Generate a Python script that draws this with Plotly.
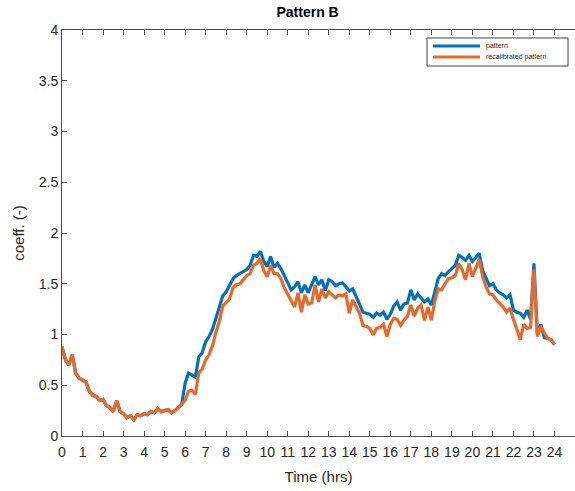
import numpy as np
import plotly.graph_objects as go

# time grid: 10-minute steps from 0 to 24 h
time_hrs = np.round(np.arange(0, 24.0001, 1 / 6), 4)

pattern = [
    0.88, 0.75, 0.70, 0.80, 0.62, 0.57,
    0.55, 0.53, 0.44, 0.40, 0.39, 0.35,
    0.36, 0.30, 0.28, 0.24, 0.35, 0.24,
    0.22, 0.18, 0.20, 0.16, 0.21, 0.20,
    0.22, 0.21, 0.24, 0.23, 0.27, 0.24,
    0.25, 0.26, 0.23, 0.25, 0.28, 0.31,
    0.52, 0.62, 0.60, 0.58, 0.78, 0.82,
    0.93, 0.98, 1.05, 1.16, 1.25, 1.38,
    1.42, 1.48, 1.55, 1.58, 1.60, 1.62,
    1.64, 1.68, 1.78, 1.77, 1.82, 1.72,
    1.67, 1.77, 1.66, 1.70, 1.65, 1.58,
    1.50, 1.44, 1.47, 1.52, 1.41, 1.49,
    1.41, 1.50, 1.57, 1.49, 1.54, 1.43,
    1.54, 1.52, 1.48, 1.50, 1.51, 1.47,
    1.43, 1.45, 1.38, 1.30, 1.22, 1.21,
    1.20, 1.17, 1.21, 1.19, 1.22, 1.15,
    1.20, 1.28, 1.32, 1.24, 1.30, 1.31,
    1.44, 1.34, 1.40, 1.36, 1.32, 1.35,
    1.29, 1.42, 1.55, 1.60, 1.58, 1.62,
    1.65, 1.68, 1.78, 1.76, 1.73, 1.78,
    1.72, 1.76, 1.80, 1.63, 1.55, 1.48,
    1.50, 1.44, 1.41, 1.39, 1.36, 1.39,
    1.24, 1.22, 1.21, 1.17, 1.24, 1.15,
    1.70, 1.00, 1.10, 0.97, 0.96, 0.95,
    0.90,
]

recalibrated = [
    0.88, 0.75, 0.70, 0.80, 0.62, 0.57,
    0.55, 0.53, 0.44, 0.40, 0.39, 0.35,
    0.36, 0.30, 0.28, 0.24, 0.35, 0.24,
    0.22, 0.18, 0.20, 0.16, 0.21, 0.20,
    0.22, 0.21, 0.24, 0.23, 0.27, 0.24,
    0.25, 0.26, 0.23, 0.25, 0.28, 0.32,
    0.35, 0.44, 0.45, 0.41, 0.62, 0.66,
    0.75, 0.80, 0.89, 1.02, 1.13, 1.28,
    1.31, 1.35, 1.46, 1.49, 1.50, 1.54,
    1.58, 1.60, 1.68, 1.70, 1.75, 1.63,
    1.57, 1.68, 1.60, 1.60, 1.55, 1.46,
    1.40, 1.33, 1.27, 1.41, 1.22, 1.39,
    1.30, 1.31, 1.49, 1.32, 1.45, 1.36,
    1.42, 1.39, 1.36, 1.39, 1.38, 1.40,
    1.21, 1.34, 1.28, 1.21, 1.09, 1.08,
    1.06, 0.995, 1.06, 1.07, 1.10, 0.98,
    1.10, 1.16, 1.15, 1.09, 1.14, 1.18,
    1.29, 1.18, 1.26, 1.29, 1.14, 1.27,
    1.14, 1.33, 1.45, 1.44, 1.50, 1.55,
    1.56, 1.58, 1.70, 1.64, 1.54, 1.70,
    1.57, 1.65, 1.74, 1.57, 1.47, 1.40,
    1.39, 1.34, 1.31, 1.27, 1.22, 1.26,
    1.15, 1.06, 0.95, 1.10, 1.06, 1.07,
    1.64, 0.98, 1.08, 1.02, 0.96, 0.95,
    0.90,
]

series_names = ["pattern", "recalibrated pattern"]
x_ticks = list(range(0, 25))
y_ticks = [0, 0.5, 1, 1.5, 2, 2.5, 3, 3.5, 4]
y_tick_labels = ["0", "0.5", "1", "1.5", "2", "2.5", "3", "3.5", "4"]

BLUE = "#0072BD"
ORANGE = "#E8692A"
AX = "#4d4d4d"
TXT = "#262626"
FONT = "Liberation Sans, Arial, sans-serif"
LW = 3.2

fig = go.Figure()
fig.add_trace(go.Scatter(x=time_hrs, y=pattern, mode="lines", name=series_names[0],
                         line=dict(color=BLUE, width=LW)))
fig.add_trace(go.Scatter(x=time_hrs, y=recalibrated, mode="lines",
                         name=series_names[1],
                         line=dict(color=ORANGE, width=LW)))

# compact MATLAB-style legend box (drawn in paper coordinates)
leg_x0, leg_x1, leg_y0, leg_y1 = 0.7115, 0.9864, 0.9113, 0.9803
sample_x0, sample_x1, text_x = 0.7232, 0.8148, 0.8226
rows_y = [0.9606, 0.9335]
fig.add_shape(type="rect", xref="paper", yref="paper",
              x0=leg_x0, x1=leg_x1, y0=leg_y0, y1=leg_y1,
              line=dict(color="#444", width=1), fillcolor="white", layer="above")
for name, col, yy in zip(series_names, [BLUE, ORANGE], rows_y):
    fig.add_shape(type="line", xref="paper", yref="paper",
                  x0=sample_x0, x1=sample_x1, y0=yy, y1=yy,
                  line=dict(color=col, width=LW), layer="above")
    fig.add_annotation(xref="paper", yref="paper", x=text_x, y=yy,
                       text=name, showarrow=False, xanchor="left",
                       yanchor="middle", font=dict(size=7, color=TXT))

fig.update_layout(
    width=575, height=491,
    margin=dict(l=62, r=0, t=30, b=55),
    paper_bgcolor="white", plot_bgcolor="white",
    font=dict(family=FONT, color=TXT),
    title=dict(text="<b>Pattern B</b>", x=0.535, xanchor="center",
               y=0.985, yanchor="top", font=dict(size=14, color="black")),
    showlegend=False,
)
fig.update_xaxes(
    range=[0, 25], tickmode="array", tickvals=x_ticks,
    ticktext=[str(v) for v in x_ticks],
    showline=True, linecolor=AX, linewidth=1, mirror="allticks",
    ticks="inside", ticklen=5, tickcolor=AX,
    showgrid=False, zeroline=False, ticklabelstandoff=3,
    tickfont=dict(size=14, color=TXT),
    title=dict(text="Time (hrs)", font=dict(size=15, color=TXT), standoff=12),
)
fig.update_yaxes(
    range=[0, 4], tickmode="array", tickvals=y_ticks, ticktext=y_tick_labels,
    showline=True, linecolor=AX, linewidth=1, mirror=False,
    ticks="inside", ticklen=5, tickcolor=AX,
    showgrid=False, zeroline=False,
    tickfont=dict(size=14, color=TXT),
    title=dict(text="coeff. (-)", font=dict(size=15, color=TXT), standoff=10),
)

fig.write_html("out.html")
